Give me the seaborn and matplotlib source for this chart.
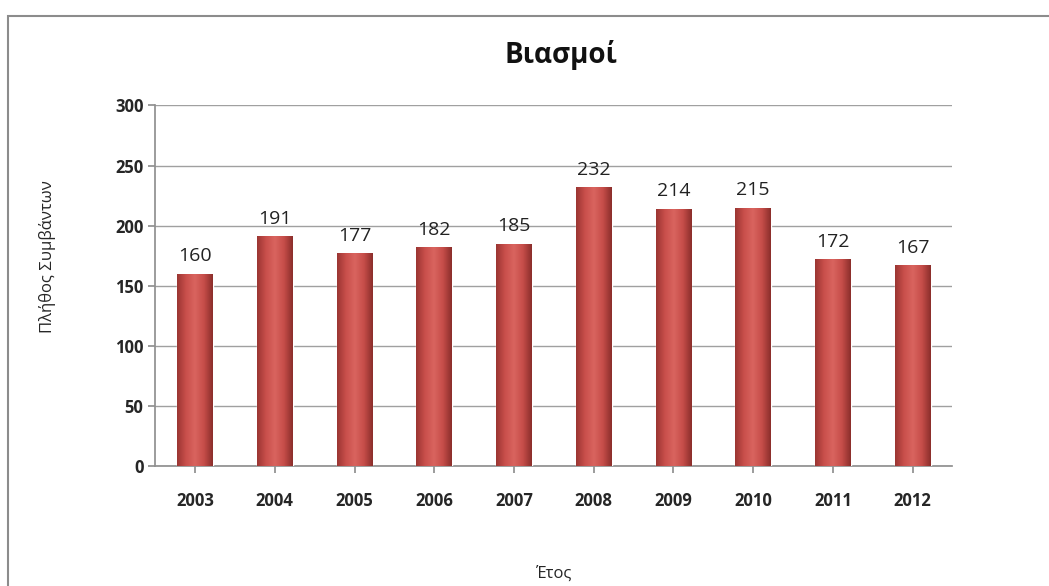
import matplotlib
matplotlib.use("Agg")
import matplotlib.pyplot as plt
import numpy as np
import pandas as pd
import seaborn as sns
from matplotlib.colors import LinearSegmentedColormap
from matplotlib.patches import Rectangle

# ─── Data ─────────────────────────────────────────────────────────────────────
YEARS  = ["2003", "2004", "2005", "2006", "2007", "2008", "2009", "2010", "2011", "2012"]
VALUES = [160, 191, 177, 182, 185, 232, 214, 215, 172, 167]
Y_TICKS = [0, 50, 100, 150, 200, 250, 300]

TITLE   = "Βιασμοί"
Y_LABEL = "Πλήθος Συμβάντων"
X_LABEL = "Έτος"

BAR_COLOR = "#C0504D"

df = pd.DataFrame({"year": YEARS, "count": VALUES})

# ─── Style ────────────────────────────────────────────────────────────────────
sns.set_theme(style="white")
plt.rcParams["font.family"] = ["Open Sans", "DejaVu Sans"]

fig = plt.figure(figsize=(10.49, 5.86), dpi=100)
ax = fig.add_axes([0.148, 0.205, 0.76, 0.615])

sns.barplot(data=df, x="year", y="count", color=BAR_COLOR, width=0.45,
            saturation=1, ax=ax, zorder=3)

# cylinder-ish shading: gradient clipped to each bar
cmap = LinearSegmentedColormap.from_list(
    "cyl", ["#9A3532", "#C94F4B", "#D9645F", "#C64D49", "#8A2E2B"])
grad = np.linspace(0, 1, 256).reshape(1, -1)
for bar in ax.patches:
    x0, w, h = bar.get_x(), bar.get_width(), bar.get_height()
    im = ax.imshow(grad, cmap=cmap, aspect="auto", extent=[x0, x0 + w, 0, h],
                   zorder=4)
    im.set_clip_path(bar)
    ax.text(x0 + w / 2, h + 7, str(int(h)), ha="center", va="bottom",
            fontsize=14, color="#222222", zorder=5)

ax.set_xlim(-0.5, len(YEARS) - 0.5)
ax.set_ylim(0, 300)
ax.set_yticks(Y_TICKS)
ax.yaxis.grid(True, color="#A0A0A0", linewidth=1.0, zorder=0)
for side in ["top", "right"]:
    ax.spines[side].set_visible(False)
for side in ["left", "bottom"]:
    ax.spines[side].set_color("#909090")
ax.tick_params(axis="both", length=5, color="#909090", direction="out",
               left=True, bottom=True)
ax.tick_params(axis="x", pad=14)
ax.set_xticks(np.arange(len(YEARS)))
ax.set_xticklabels(YEARS, fontsize=12, fontweight="bold")
for lbl in ax.get_yticklabels():
    lbl.set_fontsize(12)
    lbl.set_fontweight("bold")

ax.set_xlabel(X_LABEL, fontsize=12, labelpad=40)
ax.set_ylabel(Y_LABEL, fontsize=12)
ax.yaxis.set_label_coords(-0.125, 0.58)
fig.text(0.535, 0.906, TITLE, ha="center", va="center", fontsize=20,
         fontweight="bold", color="#111111")

# chart frame (Excel style, clipped at right and bottom)
fig.patches.append(Rectangle((8 / 1049, -0.05), 1.1, 0.973 + 0.05,
                             transform=fig.transFigure, fill=False,
                             edgecolor="#8C8C8C", linewidth=1.5))

fig.savefig("out.png", dpi=100)
